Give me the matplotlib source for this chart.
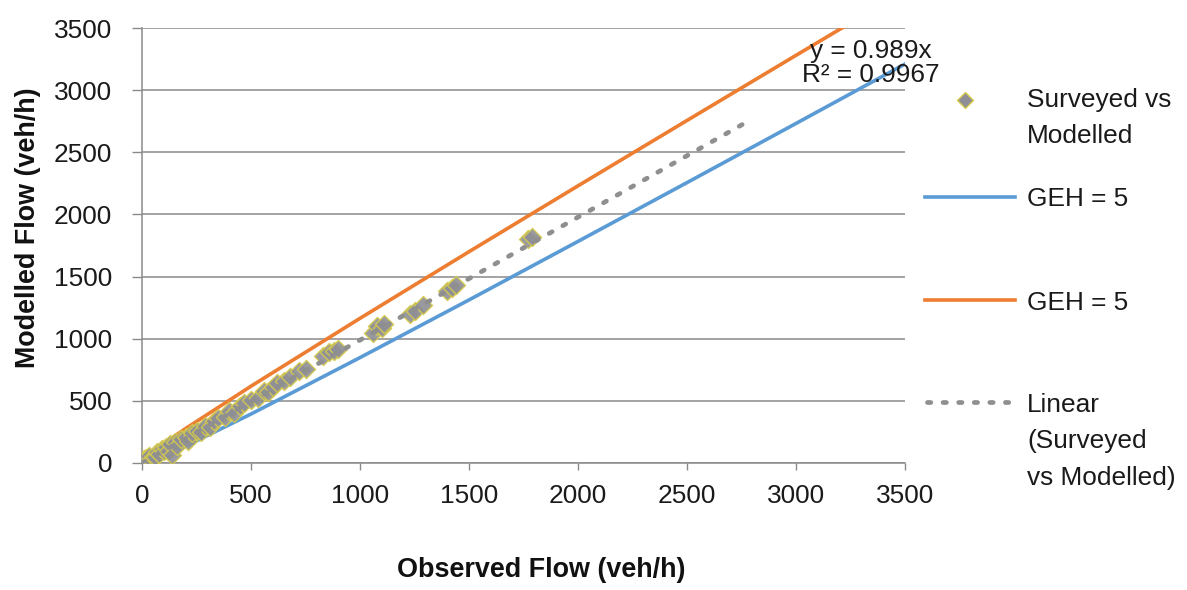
import matplotlib
matplotlib.use("Agg")
import matplotlib.pyplot as plt
from matplotlib.lines import Line2D
from matplotlib import font_manager

# Surveyed (observed) vs modelled link flows, veh/h
observed = [5, 10, 15, 20, 25, 30, 40, 50, 60, 70, 80, 90, 100, 110, 120, 130,
            138, 150, 160, 180, 200, 210, 230, 250, 270, 290, 310, 330, 350, 380,
            400, 420, 450, 470, 500, 530, 560, 580, 600, 620, 650, 680, 720, 750,
            830, 860, 880, 900, 1060, 1080, 1100, 1110, 1230, 1250, 1290, 1400,
            1420, 1440, 1770, 1790]
modelled = [10, 30, 5, 40, 15, 60, 25, 50, 45, 90, 70, 110, 95, 130, 100, 150,
            65, 170, 140, 190, 210, 180, 240, 260, 250, 300, 290, 340, 360, 370,
            420, 400, 460, 480, 510, 520, 580, 570, 610, 640, 660, 690, 740, 760,
            860, 890, 900, 920, 1050, 1100, 1090, 1120, 1200, 1220, 1270, 1380,
            1410, 1430, 1800, 1820]

# GEH = 5 envelope (upper and lower bounds)
geh_x = [0, 50, 100, 200, 500, 1000, 1500, 2000, 2500, 3000, 3500]
geh_upper = [12, 92, 157, 277, 618, 1164, 1700, 2230, 2756, 3280, 3802]
geh_lower = [0, 20, 56, 135, 394, 848, 1312, 1783, 2256, 2732, 3210]

# Linear trend through origin
trend_slope = 0.989
trend_x = [0, 2780]
trend_y = [trend_slope * v for v in trend_x]

ticks = [0, 500, 1000, 1500, 2000, 2500, 3000, 3500]

installed = {f.name for f in font_manager.fontManager.ttflist}
family = [f for f in ["Liberation Sans Narrow", "Liberation Sans", "DejaVu Sans"] if f in installed]
plt.rcParams["font.family"] = family
narrow = "Liberation Sans Narrow" in installed
scale = 1.0 if narrow else 0.86

BLUE = "#5b9bd5"
ORANGE = "#ed7d31"
GREY = "#8f8f8f"
GRID = "#8a8a8a"
MFACE = "#8e8e96"
MEDGE = "#d6cb4c"
TEXT = "#1a1a1a"

fig = plt.figure(figsize=(11.87, 5.90), dpi=100)
W, H = 1187, 590
ax = fig.add_axes([142 / W, 1 - 463 / H, (905 - 142) / W, (463 - 28) / H])

ax.plot(geh_x, geh_lower, color=BLUE, lw=2.6, zorder=3)
ax.plot(geh_x, geh_upper, color=ORANGE, lw=2.6, zorder=3)
ax.scatter(observed, modelled, marker="D", s=85, facecolor=MFACE,
           edgecolor=MEDGE, linewidth=1.0, alpha=0.9, zorder=4)
ax.plot(trend_x, trend_y, color=GREY, lw=3.4, linestyle=(0, (0.7, 2.6)),
        dash_capstyle="round", zorder=5)

ax.set_xlim(0, 3500)
ax.set_ylim(0, 3500)
ax.set_xticks(ticks)
ax.set_yticks(ticks)
ax.set_xticklabels([str(t) for t in ticks])
ax.set_yticklabels([str(t) for t in ticks])
ax.tick_params(axis="x", length=5, width=1, color=GRID, pad=10, labelsize=22 * scale,
               labelcolor=TEXT)
ax.tick_params(axis="y", length=7.5, width=1, color=GRID, pad=14, labelsize=22 * scale,
               labelcolor=TEXT)
ax.grid(axis="y", color=GRID, lw=1.1)
ax.set_axisbelow(True)
for side in ("top", "right"):
    ax.spines[side].set_visible(False)
for side in ("left", "bottom"):
    ax.spines[side].set_color(GRID)
    ax.spines[side].set_linewidth(1.1)

fig.text(541 / W, 1 - 570 / H, "Observed Flow (veh/h)", ha="center", va="center",
         fontsize=22.5 * scale, fontweight="bold", color="#111111")
fig.text(28 / W, 1 - 228 / H, "Modelled Flow (veh/h)", ha="center", va="center",
         rotation=90, fontsize=22.5 * scale, fontweight="bold", color="#111111")

# Trendline equation
fig.text(871 / W, 1 - 63 / H, "y = 0.989x\nR² = 0.9967", ha="center", va="center",
         multialignment="center", fontsize=22 * scale, linespacing=0.95, color=TEXT)


# Legend, laid out in figure pixel coordinates
def fx(px):
    return px / W


def fy(py):
    return 1 - py / H


fig.add_artist(Line2D([fx(965)], [fy(100)], transform=fig.transFigure, marker="D",
                      markersize=8, markerfacecolor=MFACE,
                      markeredgecolor=MEDGE, markeredgewidth=1.0, linestyle="none"))
fig.add_artist(Line2D([fx(925), fx(1015)], [fy(197), fy(197)], transform=fig.transFigure,
                      color=BLUE, lw=2.6))
fig.add_artist(Line2D([fx(925), fx(1015)], [fy(300), fy(300)], transform=fig.transFigure,
                      color=ORANGE, lw=2.6))
fig.add_artist(Line2D([fx(927), fx(1015)], [fy(402), fy(402)], transform=fig.transFigure,
                      color=GREY, lw=3.4, linestyle=(0, (0.7, 2.6)), dash_capstyle="round"))

legend_entries = [(97, "Surveyed vs\nModelled"), (197, "GEH = 5"), (300, "GEH = 5"),
                  (402, "Linear\n(Surveyed\nvs Modelled)")]
for py, label in legend_entries:
    for i, ln in enumerate(label.split("\n")):
        fig.text(fx(1027), fy(py + i * 36.5), ln, ha="left", va="center_baseline",
                 fontsize=22 * scale, color=TEXT)

fig.savefig("out.png", dpi=100, facecolor="white")
